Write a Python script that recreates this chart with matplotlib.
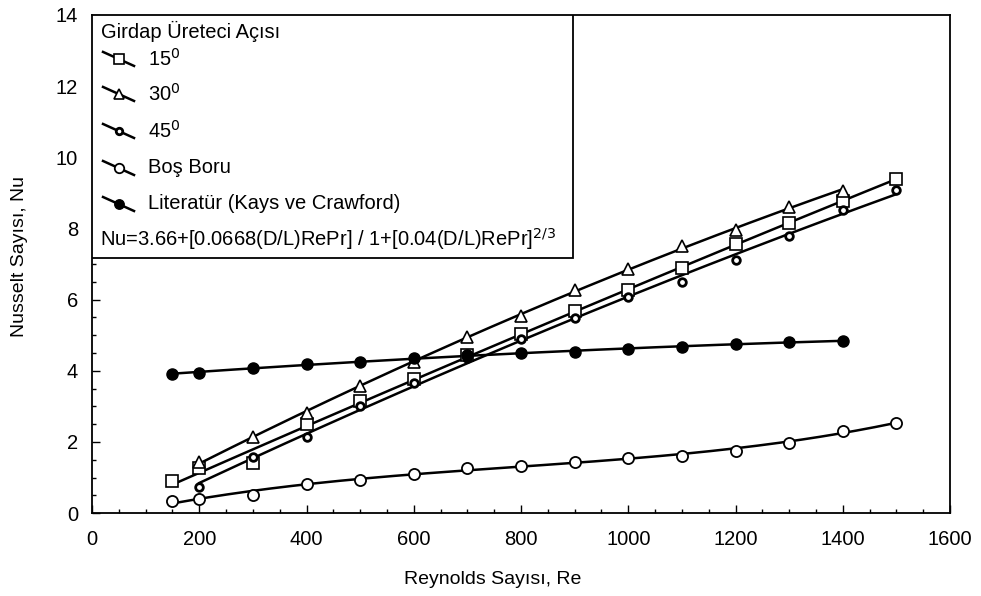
import numpy as np
import matplotlib
matplotlib.use("Agg")
import matplotlib.pyplot as plt
from matplotlib.lines import Line2D
from matplotlib.patches import Rectangle
from matplotlib.ticker import MultipleLocator

plt.rcParams['font.family'] = ['Liberation Sans', 'DejaVu Sans']

# Reynolds numbers
re_15 = [150, 200, 300, 400, 500, 600, 700, 800, 900, 1000, 1100, 1200, 1300, 1400, 1500]
re_30 = [200, 300, 400, 500, 600, 700, 800, 900, 1000, 1100, 1200, 1300, 1400]
re_45 = [200, 300, 400, 500, 600, 700, 800, 900, 1000, 1100, 1200, 1300, 1400, 1500]
re_bos = [150, 200, 300, 400, 500, 600, 700, 800, 900, 1000, 1100, 1200, 1300, 1400, 1500]
re_lit = [150, 200, 300, 400, 500, 600, 700, 800, 900, 1000, 1100, 1200, 1300, 1400]

# Nusselt numbers
nu_15 = [0.90, 1.26, 1.40, 2.50, 3.15, 3.77, 4.43, 5.04, 5.69, 6.28, 6.89, 7.55, 8.14, 8.77, 9.40]
nu_30 = [1.45, 2.13, 2.81, 3.58, 4.26, 4.94, 5.53, 6.28, 6.86, 7.50, 7.97, 8.61, 9.05]
nu_45 = [0.74, 1.59, 2.13, 3.01, 3.65, 4.35, 4.90, 5.48, 6.08, 6.49, 7.10, 7.80, 8.51, 9.07]
nu_bos = [0.34, 0.41, 0.51, 0.81, 0.93, 1.10, 1.28, 1.33, 1.45, 1.56, 1.61, 1.75, 1.98, 2.32, 2.54]
nu_lit = [3.91, 3.95, 4.08, 4.19, 4.25, 4.36, 4.43, 4.50, 4.53, 4.62, 4.67, 4.75, 4.81, 4.85]

fig = plt.figure(figsize=(9.81, 5.96), dpi=100)
ax = fig.add_axes([0.0938, 0.139, 0.8746, 0.836])

series = [
    (re_15, nu_15, dict(marker='s', ms=8, mfc='white', mec='black', mew=1.2), 2),
    (re_30, nu_30, dict(marker='^', ms=8, mfc='white', mec='black', mew=1.2), 2),
    (re_45, nu_45, dict(marker='o', ms=5.5, mfc='white', mec='black', mew=2.0), 2),
    (re_bos, nu_bos, dict(marker='o', ms=8, mfc='white', mec='black', mew=1.3), 3),
    (re_lit, nu_lit, dict(marker='o', ms=8, mfc='black', mec='black', mew=1.0), 2),
]

for x, y, mstyle, deg in series:
    x = np.asarray(x, float)
    y = np.asarray(y, float)
    coef = np.polyfit(x, y, deg)
    xs = np.linspace(x.min(), x.max(), 200)
    ax.plot(xs, np.polyval(coef, xs), color='black', lw=1.8, zorder=2)
    ax.plot(x, y, ls='none', zorder=3, **mstyle)

ax.set_xlim(0, 1600)
ax.set_ylim(0, 14)
ax.xaxis.set_major_locator(MultipleLocator(200))
ax.xaxis.set_minor_locator(MultipleLocator(50))
ax.yaxis.set_major_locator(MultipleLocator(2))
ax.yaxis.set_minor_locator(MultipleLocator(0.5))
ax.tick_params(which='both', direction='in', labelsize=14.5, width=1)
ax.tick_params(which='major', length=6)
ax.tick_params(axis='x', which='major', pad=12)
ax.tick_params(axis='y', which='major', pad=10)
ax.tick_params(which='minor', length=3)
for s in ax.spines.values():
    s.set_linewidth(1.3)

ax.set_xlabel('Reynolds Sayısı, Re', fontsize=14)
ax.set_ylabel('Nusselt Sayısı, Nu', fontsize=14)
ax.xaxis.set_label_coords(0.467, -0.117)
ax.yaxis.set_label_coords(-0.075, 0.515)

# legend panel
box = Rectangle((0, 0.512), 0.561, 0.488, transform=ax.transAxes,
                fill=True, facecolor='white', edgecolor='black', lw=1.3, zorder=5)
ax.add_patch(box)

def ay(py):
    return (513 - py) / 498.0

def axx(px):
    return (px - 92) / 858.0

legend_fs = 14.5

ax.text(axx(101), ay(32), 'Girdap Üreteci Açısı', transform=ax.transAxes,
        fontsize=legend_fs, va='center', ha='left', zorder=6)

entries = [
    ('15$^0$', series[0][2], 59),
    ('30$^0$', series[1][2], 94),
    ('45$^0$', series[2][2], 131),
    ('Boş Boru', series[3][2], 168),
    ('Literatür (Kays ve Crawford)', series[4][2], 204),
]
for label, mstyle, py in entries:
    x0, x1 = axx(103), axx(134)
    y0, y1 = ay(py - 7), ay(py + 7)
    ax.add_line(Line2D([x0, x1], [y0, y1], transform=ax.transAxes,
                       color='black', lw=1.8, zorder=6))
    ms = dict(mstyle)
    ms['ms'] = ms['ms'] * 0.85
    ax.add_line(Line2D([(x0 + x1) / 2], [(y0 + y1) / 2], transform=ax.transAxes,
                       ls='none', zorder=7, **ms))
    ax.text(axx(148), ay(py), label, transform=ax.transAxes,
            fontsize=legend_fs, va='center', ha='left', zorder=6)

ax.text(axx(100), ay(239), 'Nu=3.66+[0.0668(D/L)RePr] / 1+[0.04(D/L)RePr]$^{2/3}$',
        transform=ax.transAxes, fontsize=legend_fs, va='center', ha='left', zorder=6)

fig.savefig('out.png', dpi=100)
